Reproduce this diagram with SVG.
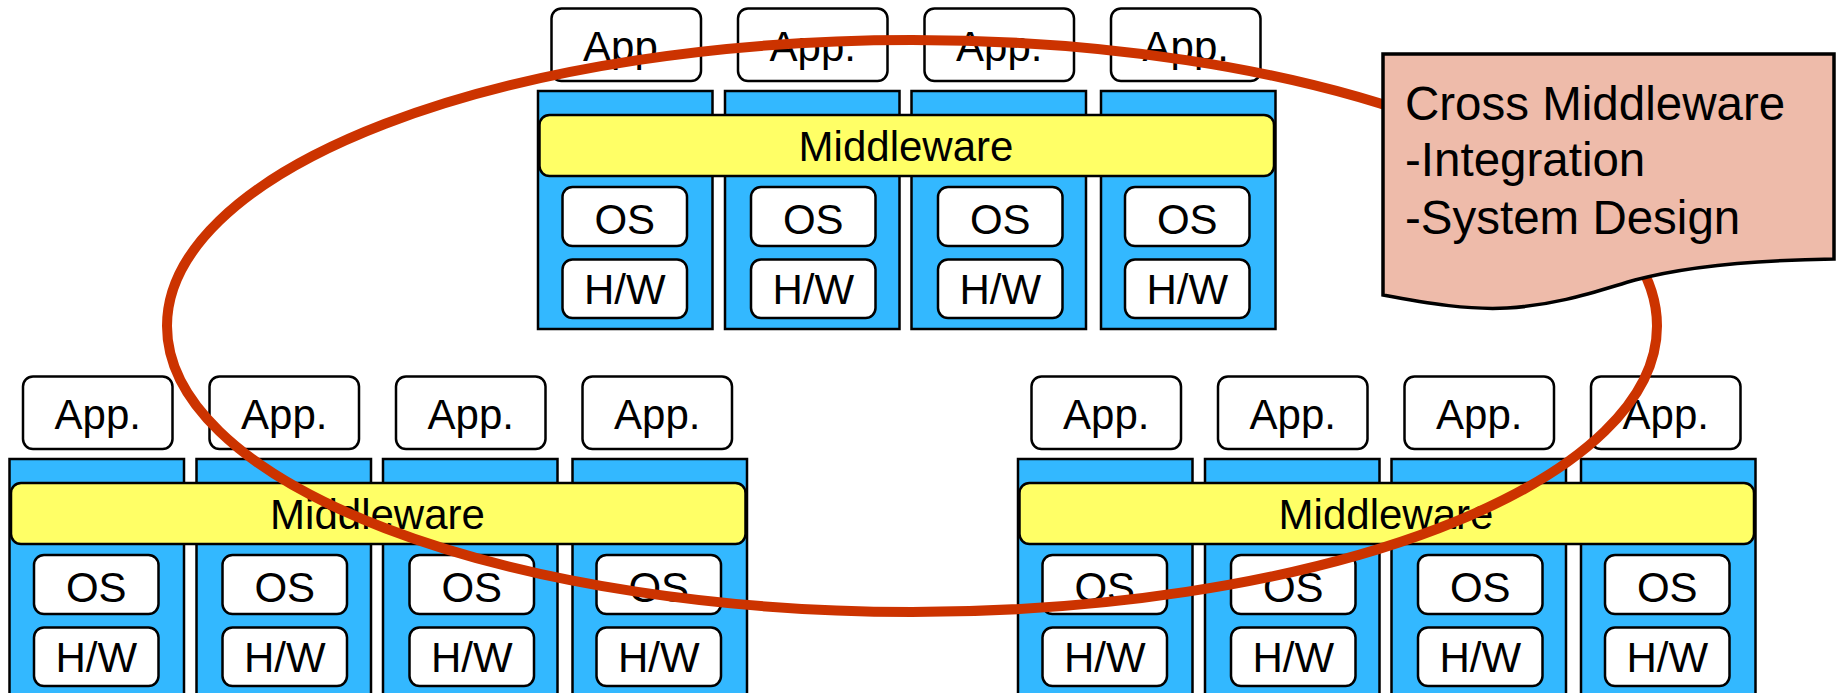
<svg xmlns="http://www.w3.org/2000/svg" width="1837" height="693" viewBox="0 0 1837 693">
<style>
.col{fill:#33B8FF;stroke:#000;stroke-width:2.5}
.mw{fill:#FFFF66;stroke:#000;stroke-width:2.5}
.box{fill:#FFFFFF;stroke:#000;stroke-width:2.5}
text{font-family:"Liberation Sans",Arial,sans-serif;fill:#000}
.t{font-size:42px;text-anchor:middle}
.c{font-size:47.5px}
.ring{fill:none;stroke:#CC3300;stroke-width:10}
.note{fill:#EEBBAA;stroke:#000;stroke-width:3.5;stroke-linejoin:miter}
</style>
<defs>
<g id="stack">
  <rect class="col" x="538" y="91" width="174.5" height="238"/>
  <rect class="col" x="725" y="91" width="174.5" height="238"/>
  <rect class="col" x="911.5" y="91" width="174.5" height="238"/>
  <rect class="col" x="1101" y="91" width="174.5" height="238"/>
  <rect class="mw" x="539.5" y="115" width="734.5" height="61" rx="10"/>
  <text class="t" x="906" y="161">Middleware</text>
  <rect class="box" x="562.5" y="187" width="124.5" height="59" rx="10"/>
  <rect class="box" x="751" y="187" width="124.5" height="59" rx="10"/>
  <rect class="box" x="938" y="187" width="124.5" height="59" rx="10"/>
  <rect class="box" x="1125" y="187" width="124.5" height="59" rx="10"/>
  <text class="t" x="624.75" y="233.5">OS</text>
  <text class="t" x="813.25" y="233.5">OS</text>
  <text class="t" x="1000.25" y="233.5">OS</text>
  <text class="t" x="1187.25" y="233.5">OS</text>
  <rect class="box" x="562.5" y="259.5" width="124.5" height="58.5" rx="10"/>
  <rect class="box" x="751" y="259.5" width="124.5" height="58.5" rx="10"/>
  <rect class="box" x="938" y="259.5" width="124.5" height="58.5" rx="10"/>
  <rect class="box" x="1125" y="259.5" width="124.5" height="58.5" rx="10"/>
  <text class="t" x="624.75" y="303.5">H/W</text>
  <text class="t" x="813.25" y="303.5">H/W</text>
  <text class="t" x="1000.25" y="303.5">H/W</text>
  <text class="t" x="1187.25" y="303.5">H/W</text>
  <rect class="box" x="551.5" y="8.5" width="149.5" height="72.5" rx="10"/>
  <rect class="box" x="738" y="8.5" width="149.5" height="72.5" rx="10"/>
  <rect class="box" x="924.5" y="8.5" width="149.5" height="72.5" rx="10"/>
  <rect class="box" x="1111" y="8.5" width="149.5" height="72.5" rx="10"/>
  <text class="t" x="626.25" y="61">App.</text>
  <text class="t" x="812.75" y="61">App.</text>
  <text class="t" x="999.25" y="61">App.</text>
  <text class="t" x="1185.75" y="61">App.</text>
</g>
</defs>
<g id="cluster-top"><use href="#stack"/></g>
<g id="cluster-left"><use href="#stack" transform="translate(-528.5,368)"/></g>
<g id="cluster-right"><use href="#stack" transform="translate(480,368)"/></g>
<g id="connectors">
  <ellipse class="ring" cx="912" cy="326" rx="745" ry="286"/>
</g>
<g id="note">
  <path class="note" d="M1383,54 L1834,54 L1834,259 C1760,260 1690,265 1635,280 C1600,290 1560,305 1507,308 C1470,310 1430,304 1383,295 Z"/>
  <text class="c" x="1405" y="120">Cross Middleware</text>
  <text class="c" x="1405" y="176">-Integration</text>
  <text class="c" x="1405" y="234">-System Design</text>
</g>
</svg>
